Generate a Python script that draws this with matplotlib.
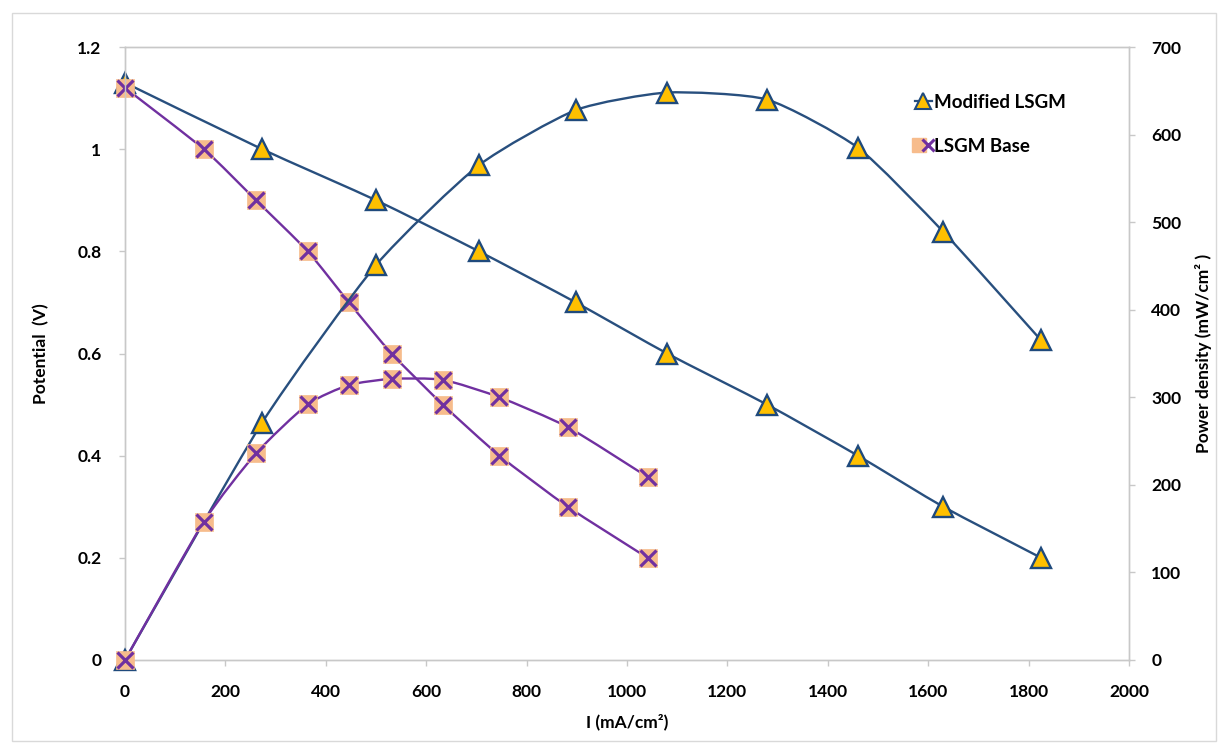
import matplotlib
matplotlib.use("Agg")
import matplotlib.pyplot as plt
from matplotlib.path import Path
from matplotlib.patches import PathPatch, FancyBboxPatch
from matplotlib.lines import Line2D
from matplotlib.legend_handler import HandlerTuple
import numpy as np

# ---- data ---------------------------------------------------------------
# Modified LSGM cell
mod_current = [0, 273, 500, 705, 898, 1080, 1279, 1460, 1630, 1825]          # mA/cm2
mod_potential = [1.13, 1.0, 0.9, 0.8, 0.7, 0.6, 0.5, 0.4, 0.3, 0.2]          # V
mod_power = [0, 271, 451, 565, 628, 648, 640, 585, 489, 365]                  # mW/cm2

# LSGM base cell
base_current = [0, 157, 261, 364, 446, 531, 633, 746, 882, 1041]
base_potential = [1.12, 1.0, 0.9, 0.8, 0.7, 0.6, 0.5, 0.4, 0.3, 0.2]
base_power = [0, 158, 236, 292, 314, 321, 320, 300, 266, 209]

x_ticks = [0, 200, 400, 600, 800, 1000, 1200, 1400, 1600, 1800, 2000]
y_ticks = [0, 0.2, 0.4, 0.6, 0.8, 1.0, 1.2]
y_tick_labels = ["0", "0.2", "0.4", "0.6", "0.8", "1", "1.2"]
p_ticks = [0, 100, 200, 300, 400, 500, 600, 700]

# ---- style --------------------------------------------------------------
plt.rcParams["font.family"] = ["Lato", "DejaVu Sans"]
plt.rcParams["font.weight"] = "bold"

BLUE = "#284F7E"
TRI_FILL = "#FFC000"
TRI_EDGE = "#1F4A7C"
PURPLE = "#7030A0"
SQ_FILL = "#F7BC8C"
SPINE = "#C8C8C8"


def smooth_path(xs, ys, k=10.0):
    """Lightly smoothed polyline (Catmull-Rom style cubic Beziers)."""
    pts = np.column_stack([xs, ys]).astype(float)
    n = len(pts)
    verts = [pts[0]]
    codes = [Path.MOVETO]
    for i in range(n - 1):
        p0 = pts[i - 1] if i > 0 else pts[i]
        p1 = pts[i]
        p2 = pts[i + 1]
        p3 = pts[i + 2] if i + 2 < n else pts[i + 1]
        c1 = p1 + (p2 - p0) / k
        c2 = p2 - (p3 - p1) / k
        verts += [c1, c2, p2]
        codes += [Path.CURVE4] * 3
    return Path(verts, codes)


def draw_series(ax, xs, ys, color, kind):
    patch = PathPatch(smooth_path(xs, ys), facecolor="none", edgecolor=color,
                      lw=1.7, zorder=2)
    ax.add_patch(patch)
    if kind == "tri":
        ax.plot(xs, ys, ls="none", marker="^", ms=14, mfc=TRI_FILL,
                mec=TRI_EDGE, mew=1.7, zorder=3, clip_on=False)
    else:
        ax.plot(xs, ys, ls="none", marker="s", ms=13, mfc=SQ_FILL,
                mec=SQ_FILL, mew=0.5, zorder=3, clip_on=False)
        ax.plot(xs, ys, ls="none", marker="x", ms=11, mec=PURPLE,
                mew=2.3, zorder=4, clip_on=False)


fig = plt.figure(figsize=(12.24, 7.47), dpi=100)
W, H = 1224, 747

# chart-area border
fig.patches.append(FancyBboxPatch((12 / W, 6 / H), 1204 / W, 728 / H,
                                  boxstyle="square,pad=0", transform=fig.transFigure,
                                  facecolor="none", edgecolor="#D9D9D9", lw=1.0))

ax = fig.add_axes([125 / W, 1 - 660 / H, (1129 - 125) / W, (660 - 47) / H])
ax2 = ax.twinx()

ax.set_xlim(0, 2000)
ax.set_ylim(0, 1.2)
ax2.set_ylim(0, 700)

# potential curves on the left axis
draw_series(ax, mod_current, mod_potential, BLUE, "tri")
draw_series(ax, base_current, base_potential, PURPLE, "sq")
# power density curves on the right axis
draw_series(ax2, mod_current, mod_power, BLUE, "tri")
draw_series(ax2, base_current, base_power, PURPLE, "sq")

ax.set_xticks(x_ticks)
ax.set_xticklabels([str(v) for v in x_ticks])
ax.set_yticks(y_ticks)
ax.set_yticklabels(y_tick_labels)
ax2.set_yticks(p_ticks)
ax2.set_yticklabels([str(v) for v in p_ticks])

for a in (ax, ax2):
    for s in a.spines.values():
        s.set_color(SPINE)
        s.set_linewidth(1.0)
    a.tick_params(axis="both", colors=SPINE, labelcolor="black", labelsize=12.5,
                  length=4, width=1.0, direction="out")
ax.tick_params(axis="y", pad=13)
ax.tick_params(axis="x", pad=13)
ax2.tick_params(axis="y", pad=12)

ax.set_xlabel("I (mA/cm²)", fontsize=12.5, fontweight="bold", labelpad=10)
ax.set_ylabel("Potential  (V)", fontsize=12.5, fontweight="bold", labelpad=20)
ax2.set_ylabel("Power density (mW/cm² )", fontsize=12.5, fontweight="bold", labelpad=10)

# legend
h_mod = Line2D([], [], color=BLUE, lw=1.6, marker="^", ms=11, mfc=TRI_FILL,
               mec=TRI_EDGE, mew=1.5)
h_base_sq = Line2D([], [], color=PURPLE, lw=1.6, marker="s", ms=10, mfc=SQ_FILL,
                   mec=SQ_FILL)
h_base_x = Line2D([], [], color=PURPLE, lw=0, marker="x", ms=9, mec=PURPLE, mew=2.2)
leg = ax2.legend([h_mod, (h_base_sq, h_base_x)], ["Modified LSGM", "LSGM Base"],
                 handler_map={tuple: HandlerTuple(ndivide=None, pad=0)},
                 loc="upper left", bbox_to_anchor=(907 / W, 1 - 86 / H),
                 bbox_transform=fig.transFigure, frameon=False,
                 prop={"size": 13.5, "weight": "bold"}, handlelength=0.95,
                 handletextpad=0.1, labelspacing=1.45, borderaxespad=0)

fig.savefig("out.png", dpi=100, facecolor="white")
